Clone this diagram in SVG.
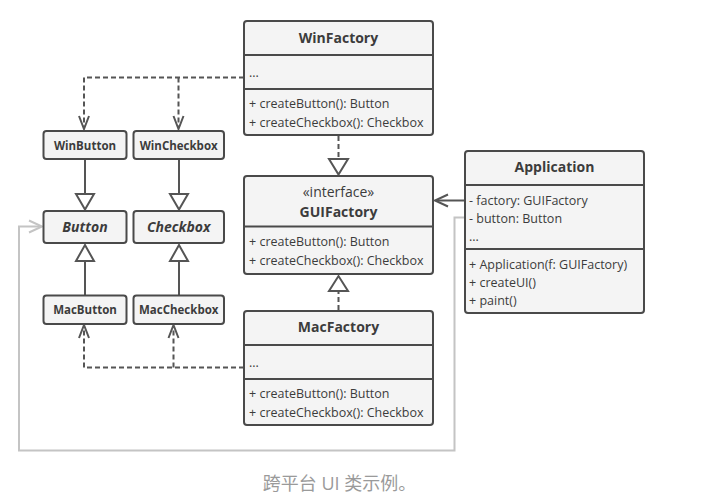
<svg xmlns="http://www.w3.org/2000/svg" width="713" height="504" viewBox="0 0 713 504">
<defs>
<style>
.box{fill:#f4f4f4;stroke:#4a4a4a;stroke-width:2}
.div{stroke:#4a4a4a;stroke-width:2}
.t{font-family:"Open Sans","DejaVu Sans",sans-serif;fill:#3c3c3c}
.m{font-size:12.5px}
.h{font-size:14px;font-weight:bold;text-anchor:middle}
.s{font-size:11.5px;font-weight:bold;text-anchor:middle}
.i{font-size:14px;font-weight:bold;font-style:italic;text-anchor:middle}
.dash{fill:none;stroke:#555;stroke-width:2;stroke-dasharray:5,3}
.sol{fill:none;stroke:#555;stroke-width:2}
.tri{fill:#fff;stroke:#555;stroke-width:2;stroke-linejoin:miter}
.open{fill:none;stroke:#555;stroke-width:2}
.gray{fill:none;stroke:#c4c4c4;stroke-width:2}
.grayarr{fill:none;stroke:#c4c4c4;stroke-width:2}
</style>
</defs>
<rect width="713" height="504" fill="#fff"/>

<g id="connectors">
<path class="dash" d="M244 77.5 H84 V128"/>
<path class="dash" d="M178.5 77.5 V128"/>
<path class="open" d="M79 116 L84 129 L89 116"/>
<path class="open" d="M173.5 116 L178.5 129 L183.5 116"/>
<path class="dash" d="M244 367.5 H84 V327"/>
<path class="dash" d="M173.5 367.5 V327"/>
<path class="open" d="M79 338 L84 325 L89 338"/>
<path class="open" d="M168.5 338 L173.5 325 L178.5 338"/>
<path class="sol" d="M85 159 V194"/>
<path class="tri" d="M76 194 H94 L85 209.5 Z"/>
<path class="sol" d="M179 159 V194"/>
<path class="tri" d="M170 194 H188 L179 209.5 Z"/>
<path class="sol" d="M85 295 V261"/>
<path class="tri" d="M76 261 H94 L85 245 Z"/>
<path class="sol" d="M179 295 V261"/>
<path class="tri" d="M170 261 H188 L179 245 Z"/>
<path class="dash" d="M338.5 136 V159"/>
<path class="tri" d="M329 159 H348 L338.5 174.5 Z"/>
<path class="dash" d="M338.5 310 V291"/>
<path class="tri" d="M329 291 H348 L338.5 276 Z"/>
<path class="sol" d="M465 200.5 H436"/>
<path class="open" d="M448 194.5 L435 200.5 L448 206.5"/>
<path class="gray" d="M465 217.5 H454.5 V450.5 H19 V226.5 H41"/>
<path class="grayarr" d="M29 220.5 L42 226.5 L29 232.5"/>
</g>

<g id="WinFactory">
<rect class="box" x="244" y="21" width="189" height="114" rx="3"/>
<line class="div" x1="244" y1="55" x2="433" y2="55"/>
<line class="div" x1="244" y1="89" x2="433" y2="89"/>
<text class="t h" x="338.5" y="43">WinFactory</text>
<text class="t m" x="249" y="77">...</text>
<text class="t m" x="249" y="108">+ createButton(): Button</text>
<text class="t m" x="249" y="127">+ createCheckbox(): Checkbox</text>
</g>

<g id="GUIFactory">
<rect class="box" x="244" y="176" width="189" height="98" rx="3"/>
<line class="div" x1="244" y1="226.5" x2="433" y2="226.5"/>
<text class="t" x="338.5" y="197" text-anchor="middle" font-size="14">«interface»</text>
<text class="t h" x="338.5" y="217">GUIFactory</text>
<text class="t m" x="249" y="246">+ createButton(): Button</text>
<text class="t m" x="249" y="265">+ createCheckbox(): Checkbox</text>
</g>

<g id="MacFactory">
<rect class="box" x="244" y="311" width="189" height="114" rx="3"/>
<line class="div" x1="244" y1="345" x2="433" y2="345"/>
<line class="div" x1="244" y1="379" x2="433" y2="379"/>
<text class="t h" x="338.5" y="332">MacFactory</text>
<text class="t m" x="249" y="367">...</text>
<text class="t m" x="249" y="398">+ createButton(): Button</text>
<text class="t m" x="249" y="417">+ createCheckbox(): Checkbox</text>
</g>

<g id="Application">
<rect class="box" x="465" y="151" width="179" height="162" rx="3"/>
<line class="div" x1="465" y1="185" x2="644" y2="185"/>
<line class="div" x1="465" y1="249" x2="644" y2="249"/>
<text class="t h" x="554.5" y="172">Application</text>
<text class="t m" x="469" y="205">- factory: GUIFactory</text>
<text class="t m" x="469" y="223">- button: Button</text>
<text class="t m" x="469" y="241">...</text>
<text class="t m" x="469" y="269">+ Application(f: GUIFactory)</text>
<text class="t m" x="469" y="287">+ createUI()</text>
<text class="t m" x="469" y="305">+ paint()</text>
</g>

<g id="WinButton">
<rect class="box" x="43.5" y="131" width="83" height="28" rx="3"/>
<text class="t s" x="85" y="149.5">WinButton</text>
</g>
<g id="WinCheckbox">
<rect class="box" x="133.5" y="131" width="90.5" height="28" rx="3"/>
<text class="t s" x="178.7" y="149.5">WinCheckbox</text>
</g>
<g id="Button">
<rect class="box" x="43.5" y="211" width="83" height="32" rx="3"/>
<text class="t i" x="85" y="232">Button</text>
</g>
<g id="Checkbox">
<rect class="box" x="133.5" y="211" width="90.5" height="32" rx="3"/>
<text class="t i" x="178.7" y="232">Checkbox</text>
</g>
<g id="MacButton">
<rect class="box" x="43.5" y="295.5" width="83" height="28.5" rx="3"/>
<text class="t s" x="85" y="314">MacButton</text>
</g>
<g id="MacCheckbox">
<rect class="box" x="133.5" y="295.5" width="90.5" height="28.5" rx="3"/>
<text class="t s" x="178.7" y="314">MacCheckbox</text>
</g>

<text x="339.5" y="490" font-family="'Open Sans','Noto Sans CJK SC',sans-serif" font-size="18" fill="#9a9a9a" text-anchor="middle">跨平台 UI 类示例。</text>
</svg>
